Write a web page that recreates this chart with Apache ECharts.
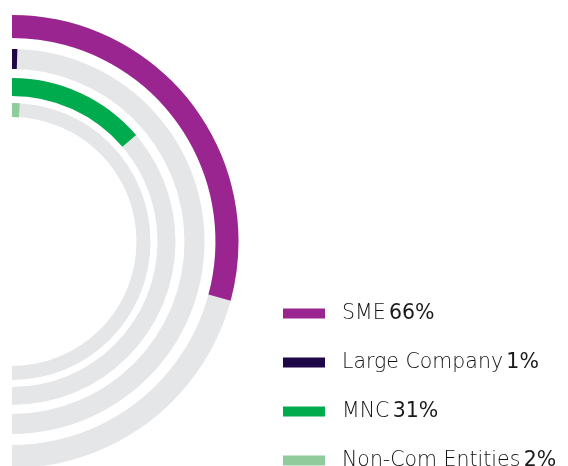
<!DOCTYPE html>
<html>
<head>
<meta charset="utf-8">
<script src="https://cdn.jsdelivr.net/npm/echarts@6/dist/echarts.min.js"></script>
<style>
    html, body { margin: 0; padding: 0; background: #fff; }
    #chart { width: 568px; height: 466px; }
</style>
</head>
<body>
<div id="chart"></div>
<script>
// data
var names = ['SME', 'Large Company', 'MNC', 'Non-Com Entities'];
var values = [66, 1, 31, 2];
var colors = ['#9a2590', '#1f0848', '#00ab4e', '#8fcb9b'];

// ring geometry (outer radius, thickness)
var ringRadius = [226.5, 192.5, 163.5, 138.5];
var ringWidth = [23, 20, 18, 14];

var trackColor = '#e5e6e8';
var scaleMax = 113;

var chart = echarts.init(document.getElementById('chart'));

var series = names.map(function (name, i) {
    return {
        name: name,
        type: 'gauge',
        center: [12, 241.5],
        radius: ringRadius[i],
        startAngle: 90,
        endAngle: -90,
        clockwise: true,
        min: 0,
        max: scaleMax,
        itemStyle: { color: colors[i] },
        progress: {
            show: true,
            width: ringWidth[i],
            roundCap: false,
            itemStyle: { color: colors[i] }
        },
        axisLine: {
            roundCap: false,
            lineStyle: { width: ringWidth[i], color: [[1, trackColor]] }
        },
        pointer: { show: false },
        anchor: { show: false },
        axisTick: { show: false },
        splitLine: { show: false },
        axisLabel: { show: false },
        title: { show: false },
        detail: { show: false },
        data: [{ name: name, value: values[i] }]
    };
});

var option = {
    animation: false,
    legend: {
        orient: 'vertical',
        left: 283,
        top: 303,
        height: 200,
        padding: 0,
        itemWidth: 42,
        itemHeight: 10,
        itemGap: 28,
        icon: 'rect',
        selectedMode: false,
        data: names.map(function (n, i) {
            return { name: n, itemStyle: { color: colors[i] } };
        }),
        formatter: function (n) {
            return '{a|' + n + '} {b|' + values[names.indexOf(n)] + '%}';
        },
        textStyle: {
            padding: [0, 0, 0, 12],
            rich: {
                a: { fontFamily: 'DejaVu Sans', fontWeight: 300, fontSize: 20.5, color: '#111111' },
                b: { fontFamily: 'DejaVu Sans', fontWeight: 400, fontSize: 20.5, color: '#1a1a1a' }
            }
        }
    },
    series: series
};

chart.setOption(option);
</script>
</body>
</html>
